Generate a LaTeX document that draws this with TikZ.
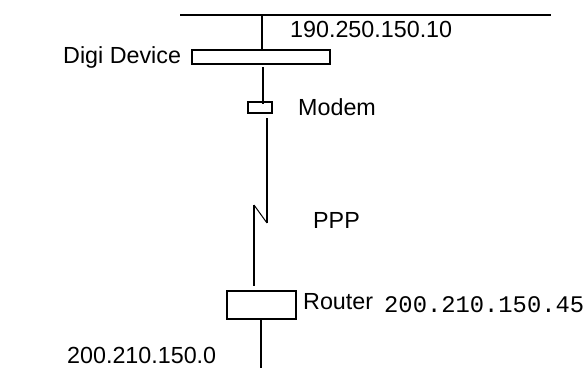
\documentclass[tikz,border=0pt]{standalone}
\usepackage{fontspec}
\setmainfont{Liberation Sans}
\newfontfamily\cour{Liberation Mono}
\begin{document}
\begin{tikzpicture}[x=1pt,y=-1pt,
  wire/.style={line width=1.6pt},
  thin wire/.style={line width=1pt},
  boxnode/.style={draw,line width=1.6pt,inner sep=0pt,fill=white},
  lbl/.style={inner sep=0pt,anchor=base west,font=\fontsize{23.3}{27}\selectfont}]
\useasboundingbox (0,0) rectangle (584,368);
% bus
\coordinate (busL) at (180,15);
\coordinate (busR) at (551,15);
\draw[wire] (busL) -- (busR);
% devices
\node[boxnode,minimum width=138pt,minimum height=14pt] (digi) at (261,57) {};
\node[boxnode,line width=1.3pt,minimum width=24pt,minimum height=11pt] (modem) at (260,107.5) {};
\node[boxnode,minimum width=69pt,minimum height=28pt] (router) at (261.5,305) {};
% connectors
\coordinate (tap) at (262,15);
\draw[wire] (tap) -- (tap |- digi.north);
\coordinate (d1) at (263,67);
\coordinate (m1) at (263,104);
\draw[wire] (d1) -- (m1);
\coordinate (p0) at (267,118);
\coordinate (p1) at (267,223);
\coordinate (p2) at (254,205);
\coordinate (p3) at (254,286);
\draw[wire] (p0) -- (p1);
\draw[thin wire] (p1) -- (p2);
\draw[wire] (p2) -- (p3);
\coordinate (net) at (261,368);
\draw[wire] (router.south -| net) -- (net);
% labels
\node[lbl] (ip1) at (290,37) {190.250.150.10};
\node[lbl] (digilbl) at (63,63) {Digi Device};
\node[lbl] (modemlbl) at (298,115) {Modem};
\node[lbl] (ppplbl) at (313,228) {PPP};
\node[lbl] (routerlbl) at (303,309) {Router};
\node[lbl,font=\fontsize{23.8}{27}\cour] (ip2) at (384,312) {200.210.150.45};
\node[lbl] (netlbl) at (67,363) {200.210.150.0};
\end{tikzpicture}
\end{document}
